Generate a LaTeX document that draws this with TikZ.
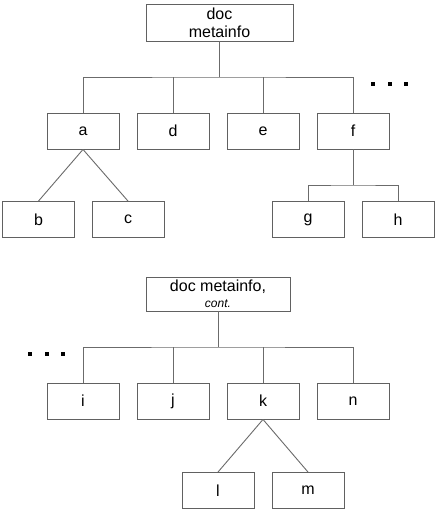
\documentclass[tikz,border=0pt]{standalone}
\usepackage{fontspec}
\setmainfont{Liberation Sans}
\begin{document}
\begin{tikzpicture}[x=1pt,y=-1pt,
  box/.style={draw=black!62, line width=0.9pt, minimum width=72pt, minimum height=36pt, inner sep=0pt, fill=white,
    font=\fontsize{16}{18}\selectfont},
  conn/.style={draw=black!58, line width=0.9pt},
  dot/.style={fill=black, minimum size=3.6pt, inner sep=0pt, draw=none}]
\useasboundingbox (0,0) rectangle (437,512);
\fill[white] (0,0) rectangle (437,512);
% top tree
\node[box, minimum width=147pt, minimum height=37pt, align=center] (doc) at (219.5,22.5) {doc\\metainfo};
\node[box] (a) at (83,131) {a};
\node[box] (d) at (173,131) {d};
\node[box] (e) at (263,131) {e};
\node[box] (f) at (353,131) {f};
\node[box] (b) at (38.5,219.5) {b};
\node[box] (c) at (128,219.5) {c};
\node[box] (g) at (308,219.5) {g};
\node[box] (h) at (398,219.5) {h};
\coordinate (j1) at (219.5,77);
\coordinate (j2) at (353,185);
\draw[conn] (doc.south) -- (j1);
\draw[conn] (a.north) |- (j1) -| (f.north);
\draw[conn] (d.north) -- (d.north |- j1);
\draw[conn] (e.north) -- (e.north |- j1);
\draw[conn] (a.south) -- (b.north);
\draw[conn] (a.south) -- (c.north);
\draw[conn] (f.south) -- (j2);
\draw[conn] (g.north) |- (j2) -| (h.north);
\node[dot] (t1) at (373,84) {};
\node[dot] (t2) at (390,84) {};
\node[dot] (t3) at (406,84) {};
% bottom tree
\node[box, minimum width=144pt, minimum height=34pt, align=center] (doc2) at (218,294)
  {doc metainfo,\\[-2pt]{\fontsize{12}{13}\selectfont\itshape cont.}};
\node[box] (i) at (83,401) {i};
\node[box] (jj) at (173,401) {j};
\node[box] (k) at (263,401) {k};
\node[box] (n) at (353,401) {n};
\node[box] (l) at (218,490.5) {l};
\node[box] (m) at (308,490.5) {m};
\coordinate (j3) at (218,347);
\draw[conn] (doc2.south) -- (j3);
\draw[conn] (i.north) |- (j3) -| (n.north);
\draw[conn] (jj.north) -- (jj.north |- j3);
\draw[conn] (k.north) -- (k.north |- j3);
\draw[conn] (k.south) -- (l.north);
\draw[conn] (k.south) -- (m.north);
\node[dot] (u1) at (30,354) {};
\node[dot] (u2) at (47,354) {};
\node[dot] (u3) at (63,354) {};
\end{tikzpicture}
\end{document}
